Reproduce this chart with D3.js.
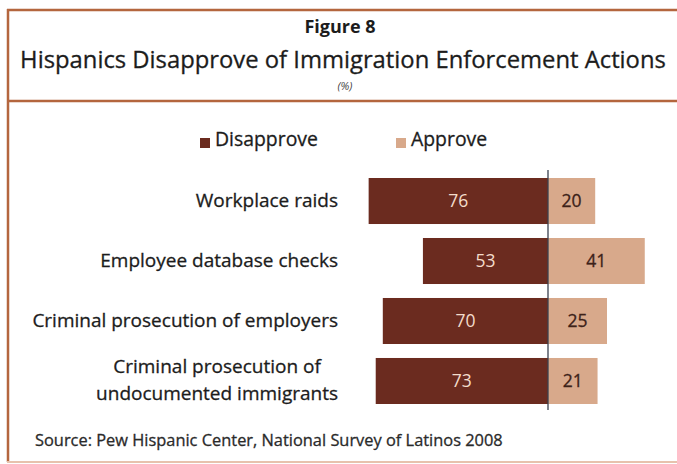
<!DOCTYPE html>
<html>
<head>
<meta charset="utf-8">
<script src="https://cdn.jsdelivr.net/npm/d3@7"></script>
<style>
  html, body { margin: 0; padding: 0; background: #ffffff; }
  svg { display: block; }
  text { font-family: "Open Sans", "Noto Sans", sans-serif; }
  .ink { stroke-width: 0.3; }
</style>
</head>
<body>
<svg id="chart" width="677" height="464"></svg>
<script>
// Survey results (percent of Hispanics)
const categories = [
  ["Workplace raids"],
  ["Employee database checks"],
  ["Criminal prosecution of employers"],
  ["Criminal prosecution of", "undocumented immigrants"]
];
const disapprove = [76, 53, 70, 73];
const approve = [20, 41, 25, 21];
const seriesNames = ["Disapprove", "Approve"];

const titleTop = "Figure 8";
const titleMain = "Hispanics Disapprove of Immigration Enforcement Actions";
const unitNote = "(%)";
const sourceNote = "Source: Pew Hispanic Center, National Survey of Latinos 2008";

const colors = { dis: "#6b2b1f", app: "#d8a98b", frame: "#b4663e", axis: "#3b4150", ink: "#1c1c1c" };

const svg = d3.select("#chart");
const W = 677, H = 464;

// frame
const frame = svg.append("g");
frame.append("line").attr("x1", 7).attr("x2", W).attr("y1", 10).attr("y2", 10)
  .attr("stroke", colors.frame).attr("stroke-width", 2.5);
frame.append("line").attr("x1", 7).attr("x2", W).attr("y1", 101).attr("y2", 101)
  .attr("stroke", colors.frame).attr("stroke-width", 2.5);
frame.append("line").attr("x1", 8).attr("x2", 8).attr("y1", 9).attr("y2", 462)
  .attr("stroke", colors.frame).attr("stroke-width", 2.5);
frame.append("line").attr("x1", 7).attr("x2", W).attr("y1", 462).attr("y2", 462)
  .attr("stroke", "#e7c2ad").attr("stroke-width", 2);

// titles
svg.append("text").attr("x", 340).attr("y", 33).attr("text-anchor", "middle")
  .attr("font-size", 18).attr("font-weight", 700).attr("fill", colors.ink).text(titleTop);
svg.append("text").attr("class", "ink").attr("stroke", colors.ink)
  .attr("x", 343).attr("y", 68).attr("text-anchor", "middle")
  .attr("font-size", 23.8).attr("fill", colors.ink).text(titleMain);
svg.append("text").attr("x", 345).attr("y", 90).attr("text-anchor", "middle")
  .attr("font-size", 11).attr("font-style", "italic").attr("fill", "#444").text(unitNote);

// scales
const center = 548;
const x = d3.scaleLinear().domain([0, 100]).range([0, 236]);
const y = d3.scaleBand().domain(d3.range(categories.length)).range([178, 404]).paddingInner(0.233);

// legend
const legendItems = [
  { name: seriesNames[0], color: colors.dis, x: 200 },
  { name: seriesNames[1], color: colors.app, x: 396 }
];
const lg = svg.append("g").selectAll("g").data(legendItems).join("g")
  .attr("transform", d => `translate(${d.x},0)`);
lg.append("rect").attr("x", 0).attr("y", 138).attr("width", 10).attr("height", 10)
  .attr("fill", d => d.color);
lg.append("text").attr("class", "ink").attr("stroke", colors.ink)
  .attr("x", 15).attr("y", 146).attr("font-size", 19.4).attr("fill", colors.ink)
  .text(d => d.name);

// bars
const rows = svg.append("g").selectAll("g").data(categories.map((c, i) => ({ c, i })))
  .join("g");

rows.append("rect")
  .attr("x", d => center - x(disapprove[d.i]))
  .attr("y", d => y(d.i))
  .attr("width", d => x(disapprove[d.i]))
  .attr("height", y.bandwidth())
  .attr("fill", colors.dis);

rows.append("rect")
  .attr("x", center)
  .attr("y", d => y(d.i))
  .attr("width", d => x(approve[d.i]))
  .attr("height", y.bandwidth())
  .attr("fill", colors.app);

// value labels
rows.append("text")
  .attr("x", d => center - x(disapprove[d.i]) / 2)
  .attr("y", d => y(d.i) + y.bandwidth() / 2 + 6)
  .attr("text-anchor", "middle").attr("font-size", 17.5).attr("fill", "#f3dccb")
  .text(d => disapprove[d.i]);
rows.append("text")
  .attr("class", "ink").attr("stroke", "#3d2219")
  .attr("x", d => center + x(approve[d.i]) / 2)
  .attr("y", d => y(d.i) + y.bandwidth() / 2 + 6)
  .attr("text-anchor", "middle").attr("font-size", 17.5).attr("fill", "#3d2219")
  .text(d => approve[d.i]);

// category labels: right-aligned block, multi-line labels centred on each other
const labelRight = 338;
const lineGap = 27;
rows.each(function (d) {
  const g = d3.select(this);
  const cy = y(d.i) + y.bandwidth() / 2;
  const n = d.c.length;
  const t = g.append("text").attr("class", "ink").attr("stroke", colors.ink)
    .attr("font-size", 19).attr("fill", colors.ink);
  const spans = d.c.map((line, k) => t.append("tspan")
    .attr("y", cy + 6 + (k - (n - 1) / 2) * lineGap).text(line));
  if (n === 1) {
    t.attr("text-anchor", "end");
    spans[0].attr("x", labelRight);
  } else {
    const widths = spans.map(s => s.node().getComputedTextLength());
    const mid = labelRight - d3.max(widths) / 2;
    t.attr("text-anchor", "middle");
    spans.forEach(s => s.attr("x", mid));
  }
});

// centre axis line
svg.append("line").attr("x1", center).attr("x2", center)
  .attr("y1", 170).attr("y2", 410)
  .attr("stroke", colors.axis).attr("stroke-width", 1.3);

// source
svg.append("text").attr("class", "ink").attr("stroke", "#2a2a2a")
  .attr("x", 35).attr("y", 446).attr("font-size", 16.4).attr("fill", "#2a2a2a")
  .text(sourceNote);
</script>
</body>
</html>
